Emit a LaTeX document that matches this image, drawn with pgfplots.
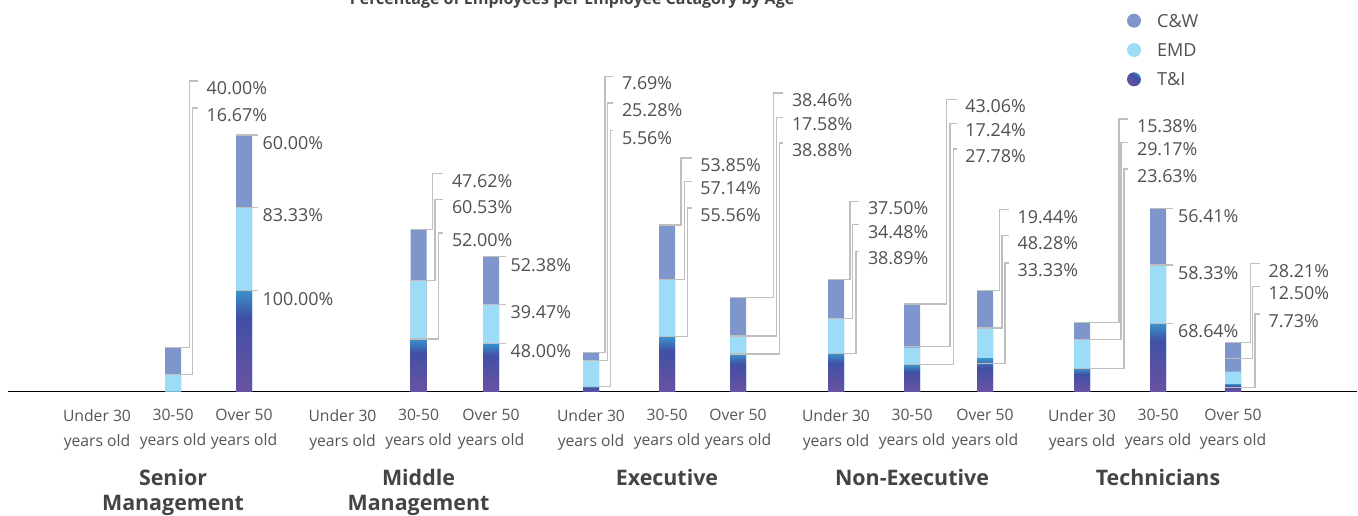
\documentclass[border=0pt]{standalone}
\usepackage{fontspec}
\setmainfont{Open Sans}
\usepackage{pgfplots}
\pgfplotsset{compat=1.18}
\usepackage{pgfplotstable}
\definecolor{cw}{HTML}{7F96CC}
\definecolor{emd}{HTML}{9DDCF6}
\definecolor{tiTop}{HTML}{3A92C9}
\definecolor{tiMid}{HTML}{4150A4}
\definecolor{tiBot}{HTML}{6A52A2}
\definecolor{lead}{HTML}{BFBFBF}
\definecolor{txt}{HTML}{505050}
\definecolor{tick}{HTML}{555555}
\definecolor{grp}{HTML}{444444}
\pgfdeclareverticalshading{tishade}{100bp}{color(0bp)=(tiBot); color(25bp)=(tiBot); color(62bp)=(tiMid); color(75bp)=(tiTop); color(100bp)=(tiTop)}
\tikzset{
  leadline/.style={draw=lead, line width=1.5pt},
  lab/.style={anchor=west, inner sep=0pt, font=\fontsize{17.9}{20}\selectfont, text=txt},
}
\newcommand\brk[6]{\draw[leadline] (#1,#2) -| (#3,#4-7) -- (#5,#4-7); \node[lab] at (#5+8.5,#4) {#6};}
\newcommand\stl[4]{\draw[leadline] (#1,#2) -- (#3,#2); \node[lab] at (#3+4.5,#2+8) {#4};}
% one T&I bar per plot, so that each bar gets its own gradient
\newcommand\tibar[1]{\addplot[ybar, bar width=16pt, bar shift=0pt, shading=tishade, draw=none, restrict x to domain=#1] table[x=x, y=TI] {\data};}
% bar heights (percent scale, as drawn)
\pgfplotstableread{
x     TI    EMD   CW
173   0     17.2  26.3
244   100   82.3  71.4
418.5 52.0  57.6  50.7
491   47.8  38.5  47.0
591   4.9   25.7  7.9
667   54.3  56.7  53.6
738   37.2  17.8  38.2
836   37.9  34.5  38.5
912   26.4  17.1  43.1
985   32.6  29.6  37.5
1082  23.1  28.6  16.4
1158  67.5  57.6  56.0
1233  7.6   12.2  29.0
}\data
\begin{document}
\begin{tikzpicture}
\begin{axis}[
  at={(8pt,-391.7pt)}, anchor=south west,
  scale only axis, width=1349pt, height=391.7pt,
  xmin=8, xmax=1357, ymin=0, ymax=386.67,
  axis x line*=bottom, axis y line=none,
  x axis line style={-, line width=1.3pt, black},
  major tick length=0pt,
  xtick={97,173,244,342.5,418.5,491,591,667,738,836,912,985,1082,1158,1233},
  xticklabels={{Under 30\\years old},{30-50\\years old},{Over 50\\years old},
               {Under 30\\years old},{30-50\\years old},{Over 50\\years old},
               {Under 30\\years old},{30-50\\years old},{Over 50\\years old},
               {Under 30\\years old},{30-50\\years old},{Over 50\\years old},
               {Under 30\\years old},{30-50\\years old},{Over 50\\years old}},
  xticklabel style={font=\fontsize{15.7}{25}\selectfont, text=tick, align=center, anchor=north, inner sep=0pt, yshift=-17.5pt},
  extra x ticks={173,418.5,667,912,1158},
  extra x tick labels={{Senior\\Management},{Middle\\Management},{Executive},{Non-Executive},{Technicians}},
  extra x tick style={xticklabel style={font=\bfseries\fontsize{21.4}{25}\selectfont, text=grp, yshift=-60pt}},
  clip=false,
]
\addplot[ybar, bar width=16pt, bar shift=0pt, fill=cw, draw=none]
  table[x=x, y expr=\thisrow{TI}+\thisrow{EMD}+\thisrow{CW}] {\data};
\addplot[ybar, bar width=16pt, bar shift=0pt, fill=emd, draw=none]
  table[x=x, y expr=\thisrow{TI}+\thisrow{EMD}] {\data};
\tibar{243:245}
\tibar{417:420}
\tibar{490:492}
\tibar{590:592}
\tibar{666:668}
\tibar{737:739}
\tibar{835:837}
\tibar{911:913}
\tibar{984:986}
\tibar{1081:1083}
\tibar{1157:1159}
\tibar{1232:1234}
\end{axis}
\begin{scope}[x=1pt,y=-1pt]
% title
\node[anchor=base, inner sep=0pt, font=\bfseries\fontsize{16}{20}\selectfont, text=grp] at (572,4.5) {Percentage of Employees per Employee Catagory by Age};
% legend
\fill[cw] (1134,20.7) circle[radius=7pt];
\fill[emd] (1134,50) circle[radius=7pt];
\shade[shading=tishade, shading angle=-45] (1134,79.3) circle[radius=7pt];
\node[anchor=west, inner sep=0pt, font=\fontsize{18}{20}\selectfont, text=txt] at (1157,20.7) {C\&W};
\node[anchor=west, inner sep=0pt, font=\fontsize{18}{20}\selectfont, text=txt] at (1157,50) {EMD};
\node[anchor=west, inner sep=0pt, font=\fontsize{18}{20}\selectfont, text=txt] at (1157,79.3) {T\&I};
% Senior Management
\brk{165}{347.7}{189.3}{88}{198}{40.00\%}
\brk{165}{374.3}{192.7}{115}{198}{16.67\%}
\stl{236}{135}{258}{60.00\%}
\stl{236}{207.3}{258}{83.33\%}
\stl{236}{290.7}{258}{100.00\%}
% Middle Management
\brk{410}{229.3}{432.7}{180.7}{443.3}{47.62\%}
\brk{410}{280.7}{435}{206.7}{443.3}{60.53\%}
\brk{410}{339}{438.3}{240}{443.3}{52.00\%}
\stl{483}{256.7}{506}{52.38\%}
\stl{483}{304.3}{506}{39.47\%}
\stl{483}{343.3}{506}{48.00\%}
% Executive
\brk{583}{352.7}{605}{83.3}{613.3}{7.69\%}
\brk{583}{360.7}{607.7}{110}{613.3}{25.28\%}
\brk{583}{386.5}{610.7}{137.7}{613.3}{5.56\%}
\brk{659}{225}{681}{165}{691.7}{53.85\%}
\brk{659}{279.3}{684.3}{188.3}{691.7}{57.14\%}
\brk{659}{336.7}{687.7}{215}{691.7}{55.56\%}
\brk{730}{297.3}{773.3}{100}{783.3}{38.46\%}
\brk{730}{336}{776.7}{124.3}{783.3}{17.58\%}
\brk{730}{354}{779.3}{150}{783.3}{38.88\%}
% Non-Executive
\brk{828}{279.3}{850}{208.3}{859.3}{37.50\%}
\brk{828}{318.3}{852.7}{231.7}{859.3}{34.48\%}
\brk{828}{353.3}{856}{258.3}{859.3}{38.89\%}
\brk{904}{304}{946.7}{106.5}{956.7}{43.06\%}
\brk{904}{346.7}{950}{130.5}{956.7}{17.24\%}
\brk{904}{364.3}{953.3}{156}{956.7}{27.78\%}
\brk{977}{290.7}{999.3}{216.7}{1009}{19.44\%}
\brk{977}{328}{1002}{242.7}{1009}{48.28\%}
\brk{977}{363.3}{1005}{270}{1009}{33.33\%}
% Technicians
\brk{1074}{322.7}{1119}{126}{1128.3}{15.38\%}
\brk{1074}{339.3}{1121}{149.3}{1128.3}{29.17\%}
\brk{1074}{368.3}{1124}{176}{1128.3}{23.63\%}
\stl{1150}{208.3}{1173.3}{56.41\%}
\stl{1150}{265}{1173.3}{58.33\%}
\stl{1150}{323.3}{1173.3}{68.64\%}
\brk{1225}{342.3}{1250.7}{270.7}{1260}{28.21\%}
\brk{1225}{358.3}{1252.7}{293.3}{1260}{12.50\%}
\brk{1225}{387.3}{1255}{321}{1260}{7.73\%}
\end{scope}
\pgfresetboundingbox
\path[use as bounding box] (0,0) rectangle (1358pt,-515pt);
\end{tikzpicture}
\end{document}
